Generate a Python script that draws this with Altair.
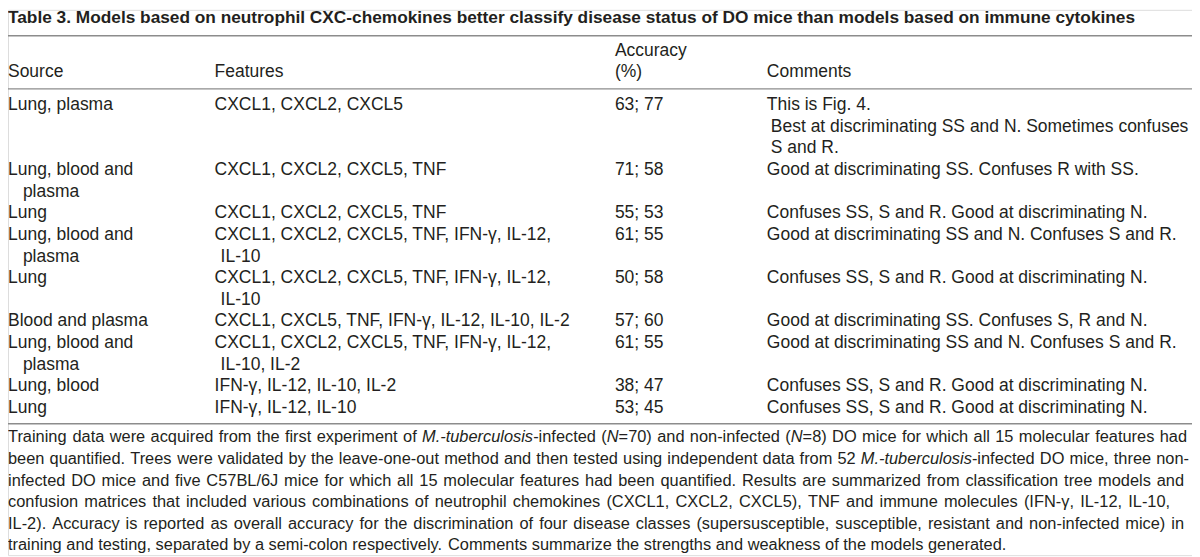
import altair as alt
import pandas as pd

# ------------------------------------------------------------------ data
title_text = ("Table 3. Models based on neutrophil CXC-chemokines better classify "
              "disease status of DO mice than models based on immune cytokines")

columns = ["Source", "Features", "Accuracy", "Comments"]
header_text = ["Source", "Features", "Accuracy\n(%)", "Comments"]

sources = [
    "Lung, plasma",
    "Lung, blood and\nplasma",
    "Lung",
    "Lung, blood and\nplasma",
    "Lung",
    "Blood and plasma",
    "Lung, blood and\nplasma",
    "Lung, blood",
    "Lung",
]
features = [
    "CXCL1, CXCL2, CXCL5",
    "CXCL1, CXCL2, CXCL5, TNF",
    "CXCL1, CXCL2, CXCL5, TNF",
    "CXCL1, CXCL2, CXCL5, TNF, IFN-γ, IL-12,\nIL-10",
    "CXCL1, CXCL2, CXCL5, TNF, IFN-γ, IL-12,\nIL-10",
    "CXCL1, CXCL5, TNF, IFN-γ, IL-12, IL-10, IL-2",
    "CXCL1, CXCL2, CXCL5, TNF, IFN-γ, IL-12,\nIL-10, IL-2",
    "IFN-γ, IL-12, IL-10, IL-2",
    "IFN-γ, IL-12, IL-10",
]
accuracy_training = [63, 71, 55, 61, 50, 57, 61, 38, 53]
accuracy_testing = [77, 58, 53, 55, 58, 60, 55, 47, 45]
comments = [
    "This is Fig. 4.\nBest at discriminating SS and N. Sometimes confuses\nS and R.",
    "Good at discriminating SS. Confuses R with SS.",
    "Confuses SS, S and R. Good at discriminating N.",
    "Good at discriminating SS and N. Confuses S and R.",
    "Confuses SS, S and R. Good at discriminating N.",
    "Good at discriminating SS. Confuses S, R and N.",
    "Good at discriminating SS and N. Confuses S and R.",
    "Confuses SS, S and R. Good at discriminating N.",
    "Confuses SS, S and R. Good at discriminating N.",
]
# *...* marks italic text
footnote_lines = [
    "Training data were acquired from the first experiment of *M.-tuberculosis*-infected (*N*=70) and non-infected (*N*=8) DO mice for which all 15 molecular features had",
    "been quantified. Trees were validated by the leave-one-out method and then tested using independent data from 52 *M.-tuberculosis*-infected DO mice, three non-",
    "infected DO mice and five C57BL/6J mice for which all 15 molecular features had been quantified. Results are summarized from classification tree models and",
    "confusion matrices that included various combinations of neutrophil chemokines (CXCL1, CXCL2, CXCL5), TNF and immune molecules (IFN-γ, IL-12, IL-10,",
    "IL-2). Accuracy is reported as overall accuracy for the discrimination of four disease classes (supersusceptible, susceptible, resistant and non-infected mice) in",
    "training and testing, separated by a semi-colon respectively. Comments summarize the strengths and weakness of the models generated.",
]

# ------------------------------------------------------------------ layout / style
W, H = 1192, 549
TABLE_FS = 17.6
FOOT_FS = 16.5
TITLE_FS = 17.4
TEXT_COLOR = "#231f20"
RULE_COLOR = "#8c8c8c"
BODY_FONT = "Liberation Sans, Arial, Helvetica, sans-serif"
TITLE_FONT = "Liberation Sans, Arial, Helvetica, sans-serif"

COL_X = {"Source": 0, "Features": 208, "Accuracy": 611, "Comments": 764}
COL_INDENT = {"Source": 15, "Features": 6, "Accuracy": 0, "Comments": 4}
TITLE_LINE = -4.05
HEADER_LAST_LINE = -1.53
RULE_LINES = [-3.22, -0.76, 14.74]
FOOT_FIRST_LINE = 15.37
FOOT_STEP = 1.0
FOOT_RIGHT = [1187, 1189, 1184, 1170, 1184, None]   # justified right edge per line

# Arial / Liberation Sans advance widths (1/1000 em)
_W = {' ': 278, '!': 278, '"': 355, '#': 556, '$': 556, '%': 889, '&': 667, "'": 191,
      '(': 333, ')': 333, '*': 389, '+': 584, ',': 278, '-': 333, '.': 278, '/': 278,
      ':': 278, ';': 278, '<': 584, '=': 584, '>': 584, '?': 556, '[': 278, ']': 278,
      'γ': 500}
for c in "0123456789":
    _W[c] = 556
_W.update(dict(A=667, B=667, C=722, D=722, E=667, F=611, G=778, H=722, I=278, J=500, K=667,
               L=556, M=833, N=722, O=778, P=667, Q=778, R=722, S=667, T=611, U=722, V=667,
               W=944, X=667, Y=667, Z=611))
_W.update(dict(a=556, b=556, c=500, d=556, e=556, f=278, g=556, h=556, i=222, j=222, k=500,
               l=222, m=833, n=556, o=556, p=556, q=556, r=333, s=500, t=278, u=556, v=500,
               w=722, x=500, y=500, z=500))


def text_width(s, size):
    return sum(_W.get(ch, 556) for ch in s) * size / 1000.0


# ------------------------------------------------------------------ build tables
body = []
line = 0
for i in range(len(sources)):
    cells = {
        "Source": sources[i],
        "Features": features[i],
        "Accuracy": f"{accuracy_training[i]}; {accuracy_testing[i]}",
        "Comments": comments[i],
    }
    n = max(len(v.split("\n")) for v in cells.values())
    for col, v in cells.items():
        for k, t in enumerate(v.split("\n")):
            body.append({"text": t, "u": line + k,
                         "x": COL_X[col] + (COL_INDENT[col] if k > 0 else 0)})
    line += n

for col, h in zip(columns, header_text):
    parts = h.split("\n")
    for k, t in enumerate(parts):
        body.append({"text": t, "u": HEADER_LAST_LINE - (len(parts) - 1 - k),
                     "x": COL_X[col]})

body_df = pd.DataFrame(body)
title_df = pd.DataFrame([{"text": title_text, "u": TITLE_LINE, "x": 0}])
rules_df = pd.DataFrame({"u": RULE_LINES})


def parse_words(s):
    segs, it, buf = [], False, ""
    for ch in s:
        if ch == "*":
            if buf:
                segs.append((buf, it))
                buf = ""
            it = not it
        else:
            buf += ch
    if buf:
        segs.append((buf, it))
    words = [[]]
    for txt, it in segs:
        parts = txt.split(" ")
        for j, p in enumerate(parts):
            if j > 0:
                words.append([])
            if p:
                words[-1].append((p, it))
    return [w for w in words if w]


foot = []
space = text_width(" ", FOOT_FS)
for li, s in enumerate(footnote_lines):
    words = parse_words(s)
    wwidths = [sum(text_width(t, FOOT_FS) for t, _ in w) for w in words]
    natural = sum(wwidths) + space * (len(words) - 1)
    extra = 0.0
    if FOOT_RIGHT[li] is not None and len(words) > 1:
        extra = (FOOT_RIGHT[li] - natural) / (len(words) - 1)
    xpos = 0.0
    u = FOOT_FIRST_LINE + li * FOOT_STEP
    for w, ww in zip(words, wwidths):
        xx = xpos
        for t, it in w:
            foot.append({"text": t, "u": u, "x": xx, "italic": it})
            xx += text_width(t, FOOT_FS)
        xpos += ww + space + extra
foot_df = pd.DataFrame(foot)

# ------------------------------------------------------------------ chart
xs = alt.Scale(domain=[0, W], range=[0, W])
ys = alt.Scale(domain=[0, 20], range=[96.1, 96.1 + 21.755 * 20])
X = alt.X("x:Q", scale=xs, axis=None)
Y = alt.Y("u:Q", scale=ys, axis=None)

rules = alt.Chart(rules_df).mark_rule(color=RULE_COLOR, strokeWidth=1.5).encode(
    x=alt.value(0), x2=alt.value(W), y=Y)

title = alt.Chart(title_df).mark_text(
    align="left", baseline="middle", font=TITLE_FONT, fontWeight="bold",
    fontSize=TITLE_FS, color=TEXT_COLOR).encode(x=X, y=Y, text="text:N")

table = alt.Chart(body_df).mark_text(
    align="left", baseline="middle", font=BODY_FONT, fontSize=TABLE_FS,
    color=TEXT_COLOR).encode(x=X, y=Y, text="text:N")

foot_up = alt.Chart(foot_df).transform_filter("!datum.italic").mark_text(
    align="left", baseline="middle", font=BODY_FONT, fontSize=FOOT_FS,
    color=TEXT_COLOR).encode(x=X, y=Y, text="text:N")

foot_it = alt.Chart(foot_df).transform_filter("datum.italic").mark_text(
    align="left", baseline="middle", font=BODY_FONT, fontSize=FOOT_FS,
    fontStyle="italic", color=TEXT_COLOR).encode(x=X, y=Y, text="text:N")

chart = alt.layer(rules, title, table, foot_up, foot_it).properties(
    width=W, height=H, padding=0,
    autosize=alt.AutoSizeParams(type="none"),
).configure_view(stroke=None).configure(background="white")

chart.save("out.html", embed_options={"renderer": "svg", "actions": False})
